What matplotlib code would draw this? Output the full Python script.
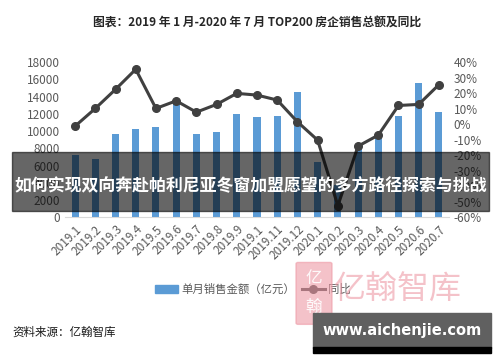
import matplotlib
matplotlib.use('Agg')
import matplotlib.pyplot as plt
import numpy as np
from matplotlib.patches import Patch, Rectangle, FancyBboxPatch
from matplotlib.lines import Line2D
from matplotlib.ticker import FuncFormatter

plt.rcParams['font.family'] = ['Noto Sans CJK SC', 'DejaVu Sans']

months = ['2019.1', '2019.2', '2019.3', '2019.4', '2019.5', '2019.6', '2019.7',
          '2019.8', '2019.9', '2019.1', '2019.11', '2019.12', '2020.1', '2020.2',
          '2020.3', '2020.4', '2020.5', '2020.6', '2020.7']
sales = [7200, 6800, 9600, 10200, 10450, 13600, 9650, 9850, 11950, 11600,
         11800, 14500, 6450, 3700, 8400, 9550, 11750, 15600, 12200]
yoy = [-1.3, 10.1, 22.4, 35.3, 10.1, 15.0, 7.7, 12.7, 19.8, 18.7, 15.5, 1.5,
       -10.3, -52.5, -14.2, -7.1, 12.0, 12.7, 25.4]

bar_color = '#5B9BD5'
line_color = '#404040'
tick_color = '#595959'

fig = plt.figure(figsize=(5, 3.62), dpi=100)
ax = fig.add_axes([0.13, 0.3997, 0.768, 0.429])
x = np.arange(len(months))
ax.bar(x, sales, width=0.35, color=bar_color, zorder=2)
ax.set_xlim(-0.5, len(months) - 0.5)
ax.set_ylim(0, 18000)
ax.set_yticks(np.arange(0, 18001, 2000))
ax.set_xticks(x)
ax.set_xticklabels(months, rotation=45, ha='right', rotation_mode='anchor')
for s in ['top', 'left', 'right']:
    ax.spines[s].set_visible(False)
ax.spines['bottom'].set_color('#D9D9D9')
ax.tick_params(axis='both', length=0, colors=tick_color, labelsize=8.5)
ax.tick_params(axis='x', pad=4)

ax2 = ax.twinx()
ax2.plot(x, np.array(yoy) / 100, color=line_color, lw=2.2, marker='o',
         markersize=5.5, zorder=3)
ax2.set_ylim(-0.6, 0.4)
ax2.set_yticks(np.arange(-0.6, 0.41, 0.1))
ax2.yaxis.set_major_formatter(FuncFormatter(lambda v, p: '%d%%' % round(v * 100)))
for s in ['top', 'left', 'right', 'bottom']:
    ax2.spines[s].set_visible(False)
ax2.tick_params(axis='y', length=0, colors=tick_color, labelsize=8.5)

fig.text(0.515, 0.936, '图表：2019 年 1 月-2020 年 7 月 TOP200 房企销售总额及同比',
         ha='center', va='center', fontsize=8.5, fontweight='bold', color='#262626')

handles = [Patch(color=bar_color),
           Line2D([0], [0], color=line_color, lw=2.2, marker='o', markersize=5.5)]
fig.legend(handles, ['单月销售金额（亿元）', '同比'], loc='center',
           bbox_to_anchor=(0.506, 0.2017), ncol=2, frameon=False,
           fontsize=8.2, labelcolor=tick_color, handlelength=2.0,
           columnspacing=0.6, handletextpad=0.3)

fig.text(0.024, 0.083, '资料来源：亿翰智库', ha='left', va='center', fontsize=8.3,
         color='#1a1a1a')

# banner overlay
fig.patches.append(Rectangle((0.024, 0.417), 0.954, 0.163, transform=fig.transFigure,
                             color='black', alpha=0.6, zorder=10))
fig.text(0.501, 0.486, '如何实现双向奔赴帕利尼亚冬窗加盟愿望的多方路径探索与挑战',
         ha='center', va='center', fontsize=12.2, fontweight='bold', color='white',
         zorder=11)

# watermark
fig.patches.append(FancyBboxPatch((0.596, 0.108), 0.064, 0.163, transform=fig.transFigure,
                                  boxstyle='round,pad=0.004', color='#EE9AA6',
                                  alpha=0.6, zorder=9))
fig.text(0.628, 0.23, '亿', ha='center', va='center', fontsize=12, color='white',
         zorder=9, alpha=0.9)
fig.text(0.628, 0.15, '翰', ha='center', va='center', fontsize=12, color='white',
         zorder=9, alpha=0.9)
fig.text(0.794, 0.2, '亿翰智库', ha='center', va='center', fontsize=23,
         color='#EE9AA6', alpha=0.6, zorder=9)

# site box
fig.patches.append(Rectangle((0.626, 0.04), 0.356, 0.095, transform=fig.transFigure,
                             color='#606060', zorder=12))
fig.patches.append(Rectangle((0.626, 0.025), 0.356, 0.016, transform=fig.transFigure,
                             color='black', zorder=12))
fig.text(0.804, 0.088, 'www.aichenjie.com', ha='center', va='center', fontsize=10.5,
         fontweight='bold', color='white', family='DejaVu Sans', zorder=13)

fig.savefig('out.png', dpi=100)
